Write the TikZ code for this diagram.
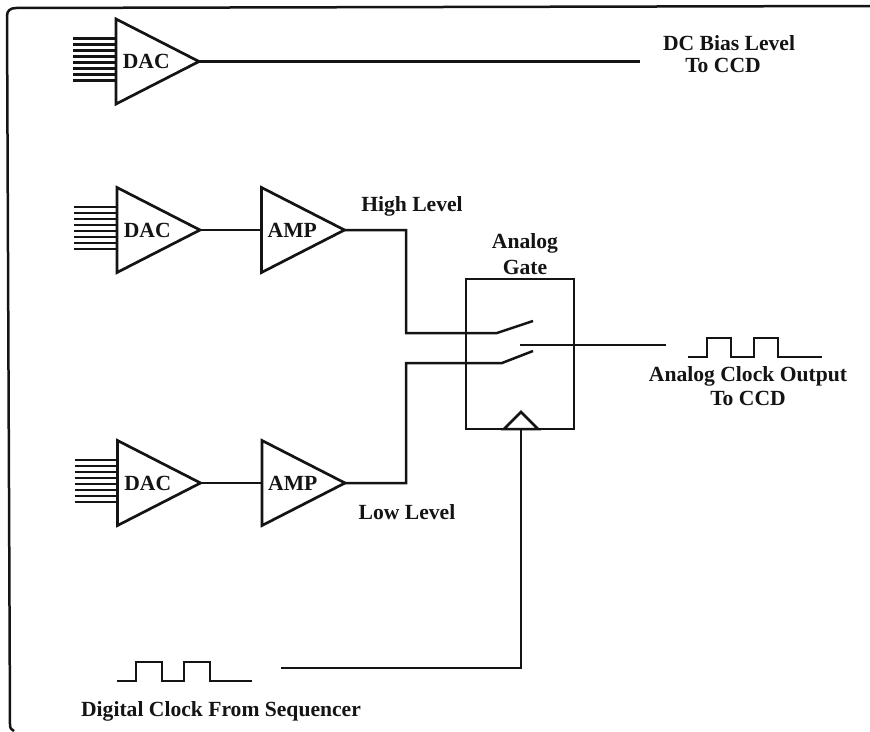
\documentclass[tikz,border=0pt]{standalone}
\usepackage{fontspec}
\setmainfont{Liberation Serif}
\usetikzlibrary{shapes.geometric,calc}
\definecolor{ink}{gray}{0.08}
\tikzset{
  wire/.style={draw=ink,line width=2.5pt,line join=miter},
  tri/.style={shape=isosceles triangle,isosceles triangle stretches,shape border rotate=0,draw=ink,line width=2.7pt,outer sep=0pt,minimum width=85pt,minimum height=83pt,inner sep=0pt,anchor=apex,text=ink,font=\fontsize{21.6}{24}\selectfont\bfseries},
  lab/.style={text=ink,inner sep=0pt,align=center,font=\fontsize{21.6}{24}\selectfont\bfseries},
  thin wire/.style={draw=ink,line width=2.2pt}
}
\newcommand{\stubs}[1]{\foreach \k in {-21,-15,-9,-3,3,9,15,21}{\draw[thin wire] ($(#1.lower side)+(-43,\k-2)$) -- ($(#1.lower side)+(0,\k-2)$);}}
\begin{document}
\begin{tikzpicture}[x=1pt,y=-1pt]
\useasboundingbox (0,0) rectangle (870,731);
% frame
\draw[wire] (870,6) -- (16,8) .. controls (10,8) and (7,11) .. (7,16) -- (10,724) .. controls (10,728) and (11,730) .. (14,731);
% triangles
\node[tri] (dac1) at (199,61.5) {DAC};
\node[tri] (dac2) at (200,230) {DAC};
\node[tri] (amp2) at (344.5,230) {AMP};
\node[tri] (dac3) at (200.5,483) {DAC};
\node[tri] (amp3) at (345,483) {AMP};
\stubs{dac1}\stubs{dac2}\stubs{dac3}
% gate
\node[draw=ink,line width=2.5pt,outer sep=0pt,minimum width=108pt,minimum height=150pt,inner sep=0pt] (gate) at (520,354) {};
\node[shape=isosceles triangle,isosceles triangle stretches,shape border rotate=90,draw=ink,line width=2.5pt,outer sep=0pt,minimum width=34pt,minimum height=17pt,inner sep=0pt,anchor=lower side] (clk) at (521,429) {};
% coordinates
\coordinate (dcend) at (640,61.5);
\coordinate (hcorner) at (406,230);
\coordinate (hin) at (406,333);
\coordinate (hpiv) at (497,333);
\coordinate (hsw) at (533,321);
\coordinate (lcorner) at (406,483);
\coordinate (lin) at (406,363);
\coordinate (lpiv) at (502,363);
\coordinate (lsw) at (533,351);
\coordinate (outa) at (520,345);
\coordinate (outb) at (666,345);
\coordinate (cstart) at (281,668);
\coordinate (ccorner) at (521,668);
% connectors
\draw[wire] (dac1.apex) -- (dcend);
\draw[wire] (dac2.apex) -- (amp2.lower side);
\draw[wire] (dac3.apex) -- (amp3.lower side);
\draw[wire] (amp2.apex) -- (hcorner) -- (hin) -- (hpiv) -- (hsw);
\draw[wire] (amp3.apex) -- (lcorner) -- (lin) -- (lpiv) -- (lsw);
\draw[wire] (outa) -- (outb);
\draw[wire] (cstart) -- (ccorner) -- (clk.lower side);
% waveforms
\draw[thin wire] (688,357) -- (707,357) -- (707,338) -- (731,338) -- (731,357) -- (754,357) -- (754,338) -- (778,338) -- (778,357) -- (822,357);
\draw[thin wire] (117,681) -- (136,681) -- (136,662) -- (162,662) -- (162,681) -- (184,681) -- (184,662) -- (210,662) -- (210,681) -- (252,681);
% labels
\node[lab] (t1) at (729,43) {DC Bias Level};
\node[lab] (t2) at (723,65) {To CCD};
\node[lab] (t3) at (412,206) {High Level};
\node[lab] (t4) at (525,243) {Analog};
\node[lab] (t5) at (525,267) {Gate};
\node[lab] (t6) at (748,376) {Analog Clock Output};
\node[lab] (t7) at (748,398) {To CCD};
\node[lab] (t8) at (407,512) {Low Level};
\node[lab] (t9) at (221,711) {Digital Clock From Sequencer};
\end{tikzpicture}
\end{document}
